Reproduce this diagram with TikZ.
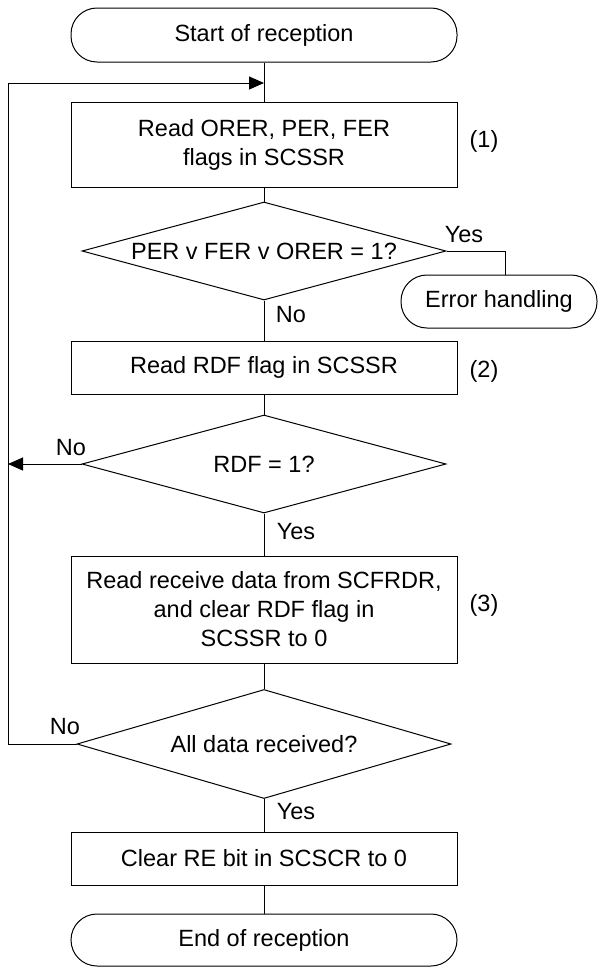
\documentclass[tikz,border=0pt]{standalone}
\usepackage{fontspec}
\setmainfont{Liberation Sans}
\usetikzlibrary{shapes.geometric,arrows.meta}

\tikzset{
  flow/.style={line width=1pt},
  procbox/.style={draw, line width=1pt, minimum width=386pt, minimum height=53pt, inner sep=0pt, align=center},
  termbox/.style={draw, line width=1pt, rounded corners=26pt, minimum height=54pt, inner sep=0pt},
  decision/.style={draw, diamond, line width=1pt, inner sep=0pt, aspect=3.7},
  branchlbl/.style={inner sep=0pt},
  stepnum/.style={inner sep=0pt},
  tip/.style={-{Triangle[length=15pt,width=13pt]}}
}

\begin{document}
\begin{tikzpicture}[x=1pt, y=-1pt, font=\fontsize{23.5}{29}\selectfont]
    \useasboundingbox (0,0) rectangle (598,967);

    % Terminals
    \node[termbox, minimum width=386pt] (start) at (264,35) {Start of reception};
    \node[termbox, minimum width=196pt, minimum height=53pt] (err) at (499,301.5) {Error handling};
    \node[termbox, minimum width=386pt, minimum height=52pt] (stop) at (264,940) {End of reception};

    % Process steps
    \node[procbox, minimum height=85pt] (rdflags) at (264,144.5) {Read ORER, PER, FER\\flags in SCSSR};
    \node[procbox] (rdrdf) at (264,367.5) {Read RDF flag in SCSSR};
    \node[procbox, minimum height=107pt] (rddata) at (264,609.5) {Read receive data from SCFRDR,\\and clear RDF flag in\\SCSSR to 0};
    \node[procbox] (clrre) at (264,858.5) {Clear RE bit in SCSCR to 0};

    % Decisions
    \node[decision, minimum width=364pt, minimum height=98pt] (errchk) at (264,251) {PER v FER v ORER = 1?};
    \node[decision, minimum width=364pt, minimum height=98pt] (rdfchk) at (264,464) {RDF = 1?};
    \node[decision, minimum width=374pt, minimum height=109pt] (allchk) at (264,744) {All data received?};

    % Step numbers
    \node[stepnum] (n1) at (484,141) {(1)};
    \node[stepnum] (n2) at (484,371) {(2)};
    \node[stepnum] (n3) at (484,605) {(3)};

    % Main flow
    \coordinate (loopin) at (264,83);
    \draw[flow] (start) -- (rdflags);
    \draw[flow] (rdflags) -- (errchk);
    \draw[flow] (errchk) -- (rdrdf);
    \draw[flow] (rdrdf) -- (rdfchk);
    \draw[flow] (rdfchk) -- (rddata);
    \draw[flow] (rddata) -- (allchk);
    \draw[flow] (allchk) -- (clrre);
    \draw[flow] (clrre) -- (stop);

    % Branches
    \coordinate (errtop) at ([xshift=6pt]err.north);
    \draw[flow] (errchk.east) -| (errtop);
    \coordinate (rdfleft) at (8,464);
    \draw[flow, tip] (rdfchk.west) -- (rdfleft);
    \coordinate (loopleft) at (8,744);
    \draw[flow, tip] (allchk.west) -- (loopleft) |- (loopin);

    % Branch labels
    \node[branchlbl] (y1) at (464,235) {Yes};
    \node[branchlbl] (n1lbl) at (291,315) {No};
    \node[branchlbl] (n2lbl) at (71,448) {No};
    \node[branchlbl] (y2) at (296,532) {Yes};
    \node[branchlbl] (n3lbl) at (65,727) {No};
    \node[branchlbl] (y3) at (296,812) {Yes};
  \end{tikzpicture}
\end{document}
